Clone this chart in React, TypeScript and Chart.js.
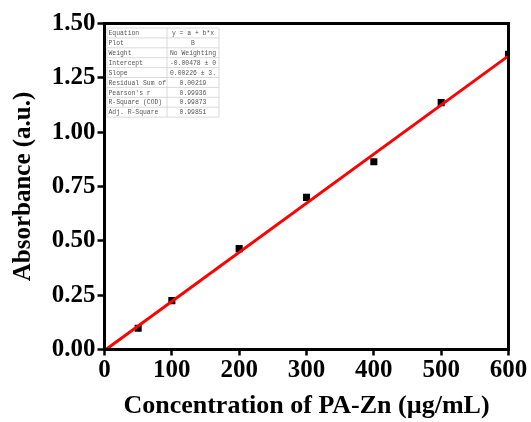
import React, { useEffect, useRef } from "react";
import { Chart, registerables } from "chart.js";

Chart.register(...registerables);

// Data
const concentrations = [50, 100, 200, 300, 400, 500, 600];
const absorbances = [0.098, 0.225, 0.464, 0.7, 0.864, 1.136, 1.358];
const fitX = [0, 600];
const fitY = [-0.0048, 1.351];

const xTickValues = [0, 100, 200, 300, 400, 500, 600];
const yTickValues = [0, 0.25, 0.5, 0.75, 1.0, 1.25, 1.5];

const xTitle = "Concentration of PA-Zn (µg/mL)";
const yTitle = "Absorbance (a.u.)";

const statLabels = [
  "Equation",
  "Plot",
  "Weight",
  "Intercept",
  "Slope",
  "Residual Sum of",
  "Pearson's r",
  "R-Square (COD)",
  "Adj. R-Square",
];
const statValues = [
  "y = a + b*x",
  "B",
  "No Weighting",
  "-0.00478 ± 0",
  "0.00226 ± 3.",
  "0.00219",
  "0.99936",
  "0.99873",
  "0.99851",
];

const SERIF = "'Liberation Serif', 'Times New Roman', serif";

const framePlugin = {
  id: "frame",
  afterDatasetsDraw(chart: any) {
    const { ctx, chartArea } = chart;
    const { left, top, right, bottom } = chartArea;
    ctx.save();
    // stats table
    const tx = left + 2.5;
    const ty = top + 4.5;
    const c1 = 60;
    const c2 = 52;
    const rh = 9.9;
    ctx.fillStyle = "#ffffff";
    ctx.fillRect(tx, ty, c1 + c2, rh * statLabels.length);
    ctx.strokeStyle = "#d0d0d0";
    ctx.lineWidth = 0.8;
    for (let i = 0; i <= statLabels.length; i++) {
      ctx.beginPath();
      ctx.moveTo(tx, ty + i * rh);
      ctx.lineTo(tx + c1 + c2, ty + i * rh);
      ctx.stroke();
    }
    [0, c1, c1 + c2].forEach((dx) => {
      ctx.beginPath();
      ctx.moveTo(tx + dx, ty);
      ctx.lineTo(tx + dx, ty + rh * statLabels.length);
      ctx.stroke();
    });
    ctx.font = "6.4px 'Liberation Mono', 'DejaVu Sans Mono', monospace";
    ctx.fillStyle = "#555555";
    ctx.textBaseline = "middle";
    statLabels.forEach((s, i) => {
      ctx.textAlign = "left";
      ctx.fillText(s, tx + 1.5, ty + i * rh + rh / 2 + 0.5, c1 - 2);
      ctx.textAlign = "center";
      ctx.fillText(statValues[i], tx + c1 + c2 / 2, ty + i * rh + rh / 2 + 0.5, c2 - 2);
    });
    // frame
    ctx.strokeStyle = "#000000";
    ctx.lineWidth = 3;
    ctx.strokeRect(left, top, right - left, bottom - top);
    ctx.restore();
  },
};

export default function App() {
  const ref = useRef<HTMLCanvasElement | null>(null);

  useEffect(() => {
    if (!ref.current) return;
    const chart = new Chart(ref.current, {
      type: "scatter",
      data: {
        datasets: [
          {
            type: "line",
            label: "Fit",
            data: fitX.map((x, i) => ({ x, y: fitY[i] })),
            borderColor: "#ff0000",
            borderWidth: 3,
            pointRadius: 0,
            fill: false,
            order: 0,
          } as any,
          {
            type: "scatter",
            label: "B",
            data: concentrations.map((x, i) => ({ x, y: absorbances[i] })),
            pointStyle: "rect",
            pointRadius: 5,
            pointHoverRadius: 5,
            backgroundColor: "#000000",
            borderColor: "#000000",
            borderWidth: 0,
            order: 1,
          },
        ],
      },
      options: {
        animation: false,
        responsive: false,
        devicePixelRatio: 1,
        layout: { padding: { top: 23.5, right: 22.5, left: 0, bottom: 0 } },
        plugins: {
          legend: { display: false },
          tooltip: { enabled: false },
        },
        scales: {
          x: {
            type: "linear",
            min: 0,
            max: 600,
            afterFit: (s: any) => {
              s.height = 72.5;
            },
            afterBuildTicks: (s: any) => {
              s.ticks = xTickValues.map((v) => ({ value: v }));
            },
            ticks: {
              padding: 0,
              color: "#000",
              font: { family: SERIF, size: 25, weight: "bold" },
              callback: (v: any) => String(v),
              maxRotation: 0,
            },
            grid: {
              display: true,
              drawOnChartArea: false,
              drawTicks: true,
              tickLength: 6,
              tickWidth: 2.5,
              tickColor: "#000",
              color: "#000",
            },
            border: { display: true, color: "#000", width: 3 },
            title: {
              display: true,
              text: xTitle,
              color: "#000",
              font: { family: SERIF, size: 26, weight: "bold" },
              padding: { top: 0, bottom: 0 },
            },
          },
          y: {
            type: "linear",
            min: 0,
            max: 1.5,
            afterFit: (s: any) => {
              s.width = 104.5;
            },
            afterBuildTicks: (s: any) => {
              s.ticks = yTickValues.map((v) => ({ value: v }));
            },
            ticks: {
              padding: 2,
              color: "#000",
              font: { family: SERIF, size: 25, weight: "bold" },
              callback: (v: any) => Number(v).toFixed(2),
            },
            grid: {
              display: true,
              drawOnChartArea: false,
              drawTicks: true,
              tickLength: 7,
              tickWidth: 2.5,
              tickColor: "#000",
              color: "#000",
            },
            border: { display: true, color: "#000", width: 3 },
            title: {
              display: true,
              text: yTitle,
              color: "#000",
              font: { family: SERIF, size: 25, weight: "bold" },
              padding: { top: 9, bottom: 0 },
            },
          },
        },
      },
      plugins: [framePlugin],
    });
    return () => chart.destroy();
  }, []);

  return (
    <div style={{ position: "absolute", left: 0, top: 0, width: 531, height: 422, background: "#fff" }}>
      <canvas ref={ref} width={531} height={422} style={{ width: 531, height: 422 }} />
    </div>
  );
}
